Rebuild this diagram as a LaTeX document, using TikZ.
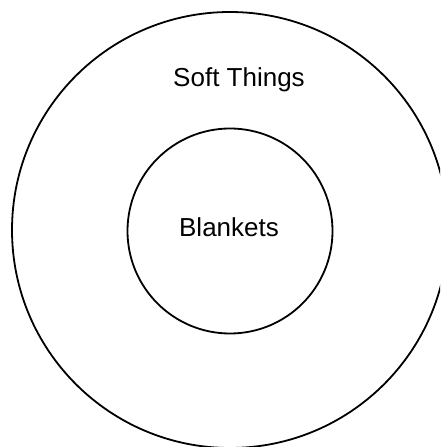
\documentclass[tikz,border=0pt]{standalone}
\usepackage{fontspec}
\setmainfont{Liberation Sans}
\begin{document}
\begin{tikzpicture}[x=1pt,y=1pt,
  ring/.style={circle, draw=black, line width=1.8pt, inner sep=0pt, fill=none},
  lbl/.style={font=\fontsize{26}{30}\selectfont, anchor=base, inner sep=0pt}]
\useasboundingbox (0,0) rectangle (440,447);
\clip (0,0) rectangle (440,447);
\fill[white] (0,0) rectangle (440,447);
\node[ring, minimum size=436pt] (outer) at (230,217) {};
\node[ring, minimum size=205pt] (inner) at (230,216) {};
\node[lbl] (soft) at (239,360) {Soft Things};
\node[lbl] (blank) at (229,210) {Blankets};
\end{tikzpicture}
\end{document}
